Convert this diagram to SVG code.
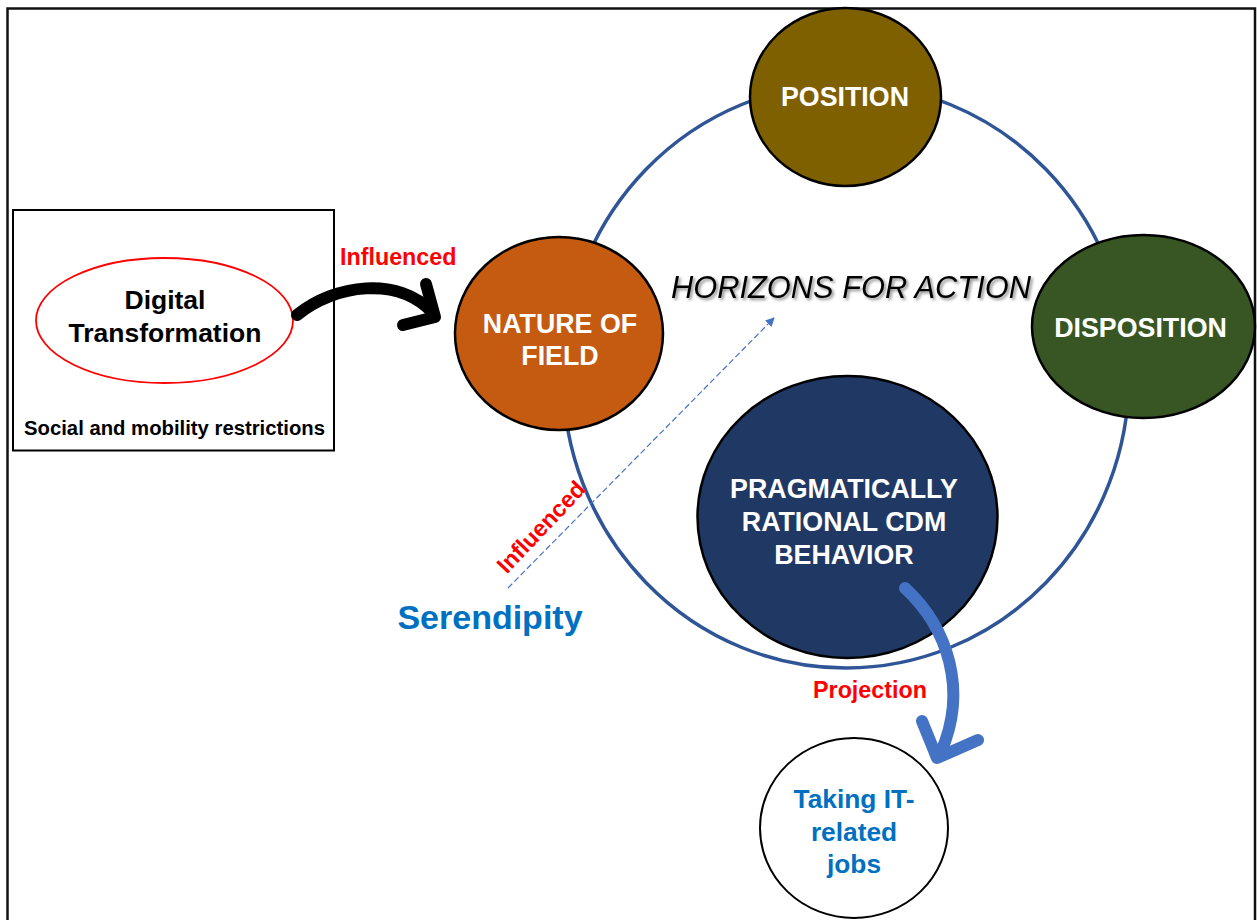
<svg xmlns="http://www.w3.org/2000/svg" width="1257" height="920" viewBox="0 0 1257 920">
  <defs>
    <style>
      text { font-family: "Liberation Sans", Arial, sans-serif; font-weight: bold; }
      .node-label { fill: #FFFFFF; font-size: 26.8px; text-anchor: middle; }
      .red-label { fill: #FF0000; font-size: 23.3px; }
      .blue-label { fill: #0070C0; text-anchor: middle; }
      .node { stroke: #000000; stroke-width: 2.5; }
    </style>
    <filter id="soft-shadow" x="-10%" y="-30%" width="120%" height="160%">
      <feDropShadow dx="2" dy="2" stdDeviation="1.5" flood-color="#000000" flood-opacity="0.45"/>
    </filter>
    <marker id="dash-head" viewBox="0 0 10 10" refX="9" refY="5" markerWidth="9" markerHeight="9" markerUnits="userSpaceOnUse" orient="auto">
      <path d="M0,0 L10,5 L0,10 z" fill="#4472C4"/>
    </marker>
  </defs>

  <!-- page frame -->
  <rect x="7.5" y="8.5" width="1247.5" height="1000" fill="#FFFFFF" stroke="#111111" stroke-width="2.5"/>

  <!-- context box with digital transformation -->
  <g id="context-box">
    <rect x="13" y="210" width="321" height="240.5" fill="#FFFFFF" stroke="#000000" stroke-width="2"/>
    <text x="174.5" y="435" font-size="20.3" text-anchor="middle" fill="#000000">Social and mobility restrictions</text>
  </g>
  <g id="digital-transformation">
    <ellipse cx="164.5" cy="320.5" rx="128.5" ry="62.5" fill="#FFFFFF" stroke="#FF0000" stroke-width="1.8"/>
    <text x="165" y="309" font-size="26.5" text-anchor="middle" fill="#000000">Digital</text>
    <text x="165" y="342" font-size="26.5" text-anchor="middle" fill="#000000">Transformation</text>
  </g>

  <!-- horizons for action ring -->
  <g id="horizons-for-action">
    <ellipse cx="846" cy="376" rx="283" ry="292" fill="none" stroke="#2F5597" stroke-width="3.5"/>
    <text x="851" y="298" font-size="30.8" font-style="italic" text-anchor="middle" fill="#000000" filter="url(#soft-shadow)" style="font-weight:normal">HORIZONS FOR ACTION</text>
  </g>

  <g id="position">
    <ellipse class="node" cx="845.5" cy="97" rx="95.5" ry="89" fill="#7F6000"/>
    <text class="node-label" x="845" y="106">POSITION</text>
  </g>

  <g id="nature-of-field">
    <ellipse class="node" cx="559" cy="333.5" rx="104" ry="96.5" fill="#C55A11"/>
    <text class="node-label" x="560" y="333">NATURE OF</text>
    <text class="node-label" x="560" y="365">FIELD</text>
  </g>

  <g id="disposition">
    <ellipse class="node" cx="1143.5" cy="326.5" rx="111.5" ry="91.5" fill="#375623"/>
    <text class="node-label" x="1140.5" y="337">DISPOSITION</text>
  </g>

  <g id="cdm-behavior">
    <ellipse class="node" cx="847.5" cy="517" rx="150" ry="141" fill="#1F3864"/>
    <text class="node-label" x="844" y="498">PRAGMATICALLY</text>
    <text class="node-label" x="844" y="531">RATIONAL CDM</text>
    <text class="node-label" x="844" y="564">BEHAVIOR</text>
  </g>

  <g id="it-jobs">
    <ellipse cx="854" cy="828" rx="94" ry="90" fill="#FFFFFF" stroke="#000000" stroke-width="2"/>
    <text class="blue-label" x="854" y="808" font-size="26.3">Taking IT-</text>
    <text class="blue-label" x="854" y="841" font-size="26.3">related</text>
    <text class="blue-label" x="854" y="873" font-size="26.3">jobs</text>
  </g>

  <g id="serendipity">
    <text class="blue-label" x="490" y="629" font-size="34">Serendipity</text>
  </g>

  <!-- connectors -->
  <g id="connectors">
    <!-- digital transformation influences nature of field -->
    <path d="M297,315 C335,284 398,276 432,312" fill="none" stroke="#000000" stroke-width="12" stroke-linecap="round"/>
    <polyline points="426,284 435,317 403,325" fill="none" stroke="#000000" stroke-width="12" stroke-linecap="round" stroke-linejoin="round"/>
    <text class="red-label" x="340" y="265">Influenced</text>

    <!-- serendipity influences horizons -->
    <line x1="508" y1="588" x2="774" y2="318" stroke="#4472C4" stroke-width="1.2" stroke-dasharray="6 3" marker-end="url(#dash-head)"/>
    <text class="red-label" transform="translate(541,527) rotate(-46.5)" x="0" y="8" text-anchor="middle">Influenced</text>

    <!-- projection to IT-related jobs -->
    <path d="M905,588 C948,628 968,690 941,752" fill="none" stroke="#4472C4" stroke-width="12" stroke-linecap="round"/>
    <polyline points="922,721 937,758 978,740" fill="none" stroke="#4472C4" stroke-width="12" stroke-linecap="round" stroke-linejoin="round"/>
    <text class="red-label" x="870" y="698" text-anchor="middle">Projection</text>
  </g>
</svg>
